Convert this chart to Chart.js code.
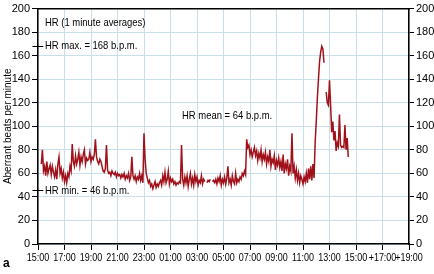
<!DOCTYPE html>
<html>
<head>
<meta charset="utf-8">
<script src="https://cdn.jsdelivr.net/npm/chart.js@4.4.0/dist/chart.umd.min.js"></script>
<style>
    body { margin: 0; background: #fff; }
    #wrap { position: relative; width: 434px; height: 274px; }
    #panel { position: absolute; left: 3px; top: 256px; font: bold 12px "Liberation Sans", Arial, sans-serif; }
</style>
</head>
<body>
<div id="wrap">
    <canvas id="hrChart" width="434" height="274"></canvas>
    <div id="panel">a</div>
</div>
<script>
// x axis = hours after 15:00, one tick every 2 h
const xTickLabels = ["15:00", "17:00", "19:00", "21:00", "23:00", "01:00", "03:00", "05:00",
    "07:00", "09:00", "11:00", "13:00", "15:00", "+17:00", "+19:00"];
const yTicks = [0, 20, 40, 60, 80, 100, 120, 140, 160, 180, 200];

// heart rate, 5-minute samples of the 1 minute averages, first sample 15:15
const firstSampleHour = 0.25;
const sampleHours = 5 / 60;
const hrValues = [
    68, 80, 62, 66, 58, 70, 60, 64, 67, 59, 66, 61,
    57, 63, 55, 68, 74, 60, 64, 56, 61, 53, 58, 52,
    60, 57, 66, 62, 85, 70, 66, 75, 68, 72, 78, 67,
    74, 70, 76, 80, 68, 73, 71, 72, 78, 70, 74, 72,
    76, 89, 74, 70, 68, 72, 70, 66, 62, 61, 64, 84,
    63, 60, 61, 58, 62, 60, 59, 61, 57, 60, 58, 59,
    56, 59, 57, 60, 55, 58, 56, 60, 54, 57, 74, 58,
    55, 58, 53, 57, 55, 60, 54, 58, 52, 94, 72, 60,
    56, 52, 54, 49, 51, 47, 50, 53, 48, 51, 49, 52,
    54, 50, 58, 53, 61, 52, 55, 62, 51, 56, 53, 55,
    51, 53, 50, 52, 51, 53, 52, 84, 55, 50, 57, 52,
    58, 49, 55, 60, 51, 56, 50, 59, 53, 57, 50, 54,
    52, 58, 51, 55, 53, null, 52, 54, 53, 55, null, 53,
    54, 52, 55, 51, 56, 53, 58, 50, 55, 52, 57, 51,
    56, 66, 52, 55, 50, 58, 53, 51, 60, 52, 55, 53,
    57, 55, 60, 58, 62, 59, 89, 82, 84, 76, 80, 74,
    78, 82, 75, 79, 71, 77, 73, 80, 70, 76, 72, 78,
    68, 74, 70, 80, 66, 72, 69, 75, 63, 71, 67, 73,
    65, 70, 62, 76, 60, 68, 64, 72, 58, 66, 62, 94,
    60, 66, 56, 63, 54, 60, 52, 58, 55, 51, 57, 53,
    60, 52, 64, 55, 66, 54, 68, 56, 86, 104, 124, 140,
    155, 163, 168, 166, 154, null, 129, 120, 118, 139, 118, 95,
    104, 88, 96, 79, 86, 83, 110, 84, 82, 83, 82, 101,
    80, 90, 74
];

const noteTexts = ["HR (1 minute averages)", "HR max. = 168 b.p.m.", "HR mean = 64 b.p.m.", "HR min. = 46 b.p.m."];
const noteHours = [0.53, 0.53, 10.87, 0.53];
const noteValues = [188, 168, 109, 45];
const markerValues = [168, 46];

const fontFamily = "'Liberation Sans', Arial, sans-serif";
const gridColor = "#cadfec";

// the original lettering is horizontally squeezed; canvas maxWidth does that
class SqueezedLinearScale extends Chart.LinearScale {
    getLabelItems(chartArea) {
        const items = super.getLabelItems(chartArea);
        const ctx = this.ctx;
        items.forEach(item => {
            if (item.options.maxWidth) return;
            ctx.save();
            ctx.font = item.font.string;
            item.options.maxWidth = ctx.measureText(item.label).width * 0.78;
            ctx.restore();
        });
        return items;
    }
}
SqueezedLinearScale.id = "squeezedLinear";
SqueezedLinearScale.defaults = Chart.LinearScale.defaults;
Chart.register(SqueezedLinearScale);

const points = hrValues.map((v, i) => ({ x: firstSampleHour + i * sampleHours, y: v }));

const notesPlugin = {
    id: "notes",
    afterDraw(chart) {
        const { ctx, scales: { x, y } } = chart;
        ctx.save();
        ctx.fillStyle = "#000";
        ctx.font = "11px " + fontFamily;
        ctx.textBaseline = "middle";
        ctx.textAlign = "left";
        noteTexts.forEach((t, i) => {
            const w = ctx.measureText(t).width * 0.86;
            ctx.fillText(t, x.getPixelForValue(noteHours[i]), y.getPixelForValue(noteValues[i]), w);
        });
        ctx.strokeStyle = "#000";
        ctx.lineWidth = 1;
        markerValues.forEach(v => {
            const py = Math.round(y.getPixelForValue(v)) + 0.5;
            ctx.beginPath();
            ctx.moveTo(x.getPixelForValue(-0.42), py);
            ctx.lineTo(x.getPixelForValue(0.4), py);
            ctx.stroke();
        });
        ctx.restore();
    }
};

const yTickOpts = {
    stepSize: 20,
    color: "#000",
    padding: 2,
    font: { family: fontFamily, size: 11 },
    callback: v => yTicks.includes(v) ? String(v) : ""
};

new Chart(document.getElementById("hrChart").getContext("2d"), {
    type: "line",
    data: {
        datasets: [{
            data: points,
            borderColor: "#a0111a",
            borderWidth: 1.5,
            pointRadius: 0,
            tension: 0,
            spanGaps: false
        }]
    },
    options: {
        responsive: false,
        animation: false,
        layout: { padding: 0 },
        plugins: { legend: { display: false }, tooltip: { enabled: false } },
        scales: {
            x: {
                type: "squeezedLinear", position: "bottom", min: 0, max: 28,
                afterFit: s => { s.height = 30; },
                ticks: {
                    stepSize: 2, autoSkip: false, maxRotation: 0, padding: 1, color: "#000",
                    font: { family: fontFamily, size: 11.5 },
                    callback: v => xTickLabels[Math.round(v / 2)]
                },
                grid: { color: gridColor, tickColor: "#000", tickLength: 6 },
                border: { color: "#000", width: 1.5 }
            },
            xTop: {
                type: "linear", position: "top", min: 0, max: 28,
                afterFit: s => { s.height = 5; },
                ticks: { display: false },
                grid: { display: false, drawTicks: false },
                border: { color: "#000", width: 1.5 }
            },
            y: {
                position: "left", min: 0, max: 200,
                afterFit: s => { s.width = 38; },
                ticks: yTickOpts,
                grid: { color: gridColor, tickColor: "#000", tickLength: 6 },
                border: { color: "#000", width: 1.5 },
                title: {
                    display: true, text: "Aberrant beats per minute", color: "#000",
                    padding: { top: 2, bottom: 0 },
                    font: { family: fontFamily, size: 10 }
                }
            },
            yRight: {
                position: "right", min: 0, max: 200,
                afterFit: s => { s.width = 25; },
                ticks: yTickOpts,
                grid: { drawOnChartArea: false, tickColor: "#000", tickLength: 5 },
                border: { color: "#000", width: 1.5 }
            }
        }
    },
    plugins: [notesPlugin]
});
</script>
</body>
</html>
